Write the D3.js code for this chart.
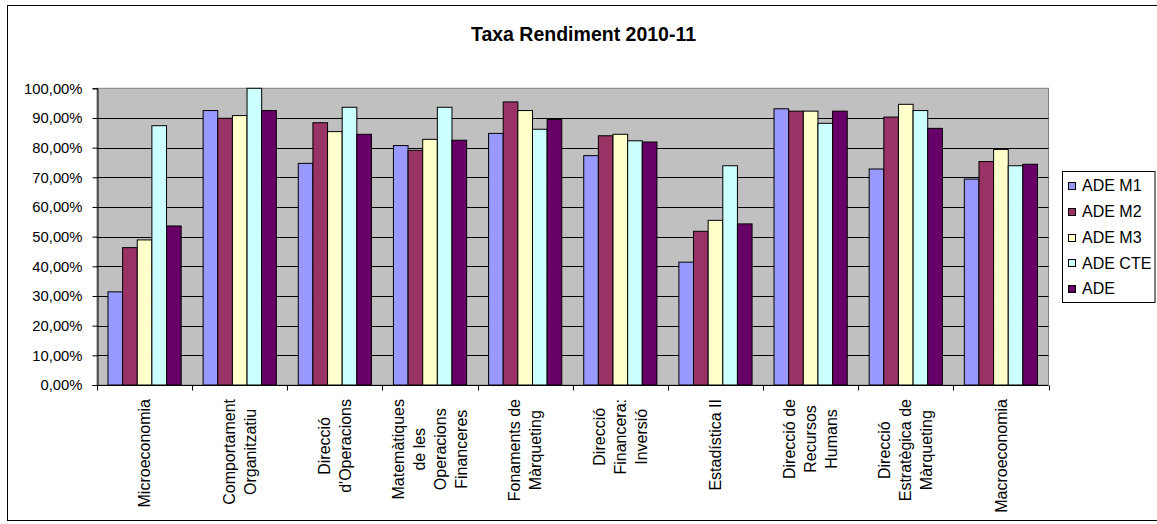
<!DOCTYPE html>
<html><head><meta charset="utf-8">
<script src="https://cdn.jsdelivr.net/npm/d3@7"></script>
<style>
body{margin:0;background:#fff;}
text{font-family:Arial,"Liberation Sans",sans-serif;fill:#000;}
</style></head>
<body><svg id="c" width="1157" height="524"></svg>
<script>
const categories = [
  ["Microeconomia"],
  ["Comportament","Organitzatiu"],
  ["Direcció","d'Operacions"],
  ["Matemàtiques","de les","Operacions","Financeres"],
  ["Fonaments de","Màrqueting"],
  ["Direcció","Financera:","Inversió"],
  ["Estadística II"],
  ["Direcció de","Recursos","Humans"],
  ["Direcció","Estratègica de","Màrqueting"],
  ["Macroeconomia"]
];
const seriesNames = ["ADE M1","ADE M2","ADE M3","ADE CTE","ADE"];
const seriesColors = ["#9999FF","#993366","#FFFFCC","#CCFFFF","#660066"];
const adeM1  = [31.4, 92.5, 74.7, 80.7, 84.8, 77.3, 41.4, 93.1, 72.8, 69.4];
const adeM2  = [46.3, 89.9, 88.4, 79.1, 95.4, 84.0, 51.8, 92.3, 90.3, 75.3];
const adeM3  = [48.9, 90.8, 85.4, 82.8, 92.5, 84.5, 55.5, 92.3, 94.6, 79.4];
const adeCTE = [87.4, 100.0, 93.6, 93.6, 86.2, 82.3, 73.9, 88.2, 92.5, 73.9];
const adeAll = [53.6, 92.5, 84.5, 82.5, 89.5, 81.9, 54.3, 92.3, 86.5, 74.4];
const yTicks = [0,10,20,30,40,50,60,70,80,90,100];
const title = "Taxa Rendiment 2010-11";

const seriesValues = [adeM1, adeM2, adeM3, adeCTE, adeAll];
const svg = d3.select("#c");
const L = 97, R = 1048.5, T = 88.3, B = 385;
const catKeys = categories.map((c,i)=>i);
const x0 = d3.scaleBand().domain(catKeys).range([L,R]).paddingInner(0).paddingOuter(0);
const x1 = d3.scaleBand().domain(d3.range(seriesNames.length)).range([0,x0.bandwidth()]).paddingInner(0).paddingOuter(0.75);
const y = d3.scaleLinear().domain([0,100]).range([B,T]);
const loc = d3.formatLocale({decimal:",",thousands:".",grouping:[3],currency:["","€"]});
const fmt = v => loc.format(".2f")(v) + "%";

// outer frame
svg.append("rect").attr("x",7.5).attr("y",5.5).attr("width",1160).attr("height",515)
  .attr("fill","#fff").attr("stroke","#000").attr("stroke-width",1);

// title
svg.append("text").attr("x",583.5).attr("y",41).attr("text-anchor","middle")
  .style("font-size","19.5px").style("font-weight","bold").text(title);

// plot area
svg.append("rect").attr("x",L).attr("y",T).attr("width",R-L).attr("height",B-T)
  .attr("fill","#C0C0C0").attr("stroke","#808080").attr("stroke-width",1);

// gridlines
svg.append("g").selectAll("line").data(yTicks.filter(d=>d>0 && d<100)).join("line")
  .attr("x1",L).attr("x2",R).attr("y1",d=>Math.round(y(d))+0.5).attr("y2",d=>Math.round(y(d))+0.5)
  .attr("stroke","#000").attr("stroke-width",1);

// bars
const g = svg.append("g");
catKeys.forEach(ci=>{
  seriesValues.forEach((vals,si)=>{
    g.append("rect")
      .attr("x",x0(ci)+x1(si)).attr("width",x1.bandwidth())
      .attr("y",y(vals[ci])).attr("height",B-y(vals[ci]))
      .attr("fill",seriesColors[si]).attr("stroke","#000").attr("stroke-width",1);
  });
});

// y axis
const yAxis = d3.axisLeft(y).tickValues(yTicks).tickSize(5).tickPadding(10).tickFormat(fmt);
const ya = svg.append("g").attr("transform",`translate(${L+0.5},0)`).call(yAxis);
ya.select(".domain").attr("stroke","#000");
ya.selectAll(".tick line").attr("stroke","#000");
ya.selectAll("text").style("font-size","14.8px").attr("font-family","Arial, 'Liberation Sans', sans-serif").attr("fill","#000");

// x axis: ticks at category boundaries
const xa = svg.append("g").attr("transform",`translate(0,${B+0.5})`);
xa.append("line").attr("x1",L).attr("x2",R).attr("y1",0).attr("y2",0).attr("stroke","#000");
xa.selectAll("line.tk").data(d3.range(categories.length+1)).join("line").attr("class","tk")
  .attr("x1",d=>Math.round(L + d*x0.step())+0.5).attr("x2",d=>Math.round(L + d*x0.step())+0.5)
  .attr("y1",0).attr("y2",5).attr("stroke","#000");

// x labels (rotated, centered lines)
const lh = 21;
categories.forEach((lines,ci)=>{
  const cx = x0(ci)+x0.bandwidth()/2;
  const grp = svg.append("g");
  const texts = lines.map((ln,i)=>grp.append("text").style("font-size","16px")
      .attr("text-anchor","middle").text(ln));
  const maxLen = d3.max(texts, t=>t.node().getComputedTextLength());
  const cy = B + 14 + maxLen/2;
  texts.forEach((t,i)=>{
    const off = (i-(lines.length-1)/2)*lh;
    t.attr("transform",`translate(${cx+off},${cy}) rotate(-90)`).attr("dy","0.35em");
  });
});

// legend
const lg = svg.append("g");
lg.append("rect").attr("x",1062.5).attr("y",171.5).attr("width",92.5).attr("height",131)
  .attr("fill","#fff").attr("stroke","#000");
seriesNames.forEach((n,i)=>{
  const cyL = 185.5 + i*25.8;
  lg.append("rect").attr("x",1068.5).attr("y",Math.round(cyL-3.5)+0.5).attr("width",7).attr("height",7)
    .attr("fill",seriesColors[i]).attr("stroke","#000");
  lg.append("text").attr("x",1082).attr("y",cyL).attr("dy","0.35em").style("font-size","16px").text(n);
});
</script></body></html>
